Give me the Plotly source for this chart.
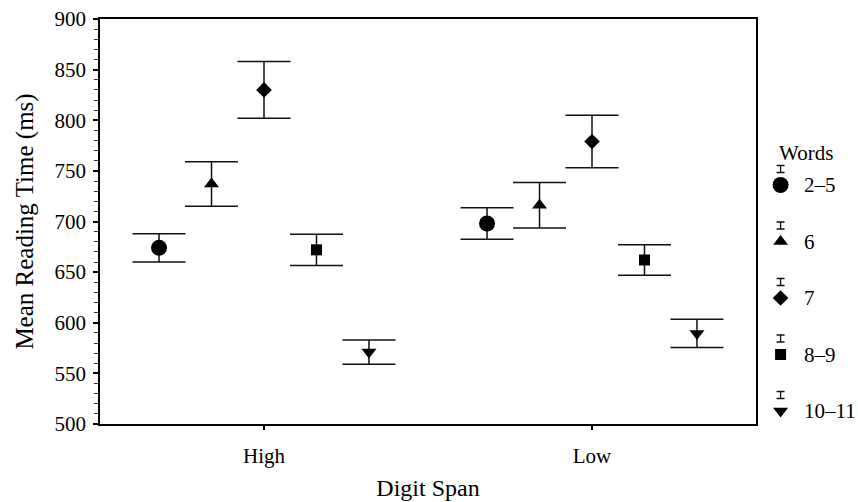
import plotly.graph_objects as go

# ---- data ----
digit_span = ["High", "Low"]
word_groups = ["2–5", "6", "7", "8–9", "10–11"]
mean_high = [674, 737, 830, 672, 571]
err_high = [14, 22, 28, 15.5, 12]
mean_low = [698, 716, 779, 662, 589.5]
err_low = [15.5, 22.5, 26, 15, 14]
y_ticks = [500, 550, 600, 650, 700, 750, 800, 850, 900]

# ---- style ----
FONT = "Liberation Serif"
symbols = ["circle", "triangle-up", "diamond", "square", "triangle-down"]
sizes = [16, 13, 12, 11, 13]
offsets = [-0.32, -0.16, 0.0, 0.16, 0.32]

W, H = 858, 502
L, R, T, B = 100, 0, 19, 78
plot_w = W - L - R
main_right = 756
main_frac = (main_right - L) / plot_w

fig = go.Figure()

for gi, g in enumerate(word_groups):
    xs = [ci + offsets[gi] for ci in range(len(digit_span))]
    ys = [mean_high[gi], mean_low[gi]]
    es = [err_high[gi], err_low[gi]]
    fig.add_trace(go.Scatter(
        x=xs, y=ys, mode="markers", name=g, showlegend=False,
        marker=dict(symbol=symbols[gi], size=sizes[gi], color="black", line=dict(width=0)),
        error_y=dict(type="data", array=es, visible=True, color="#111111",
                     thickness=1.5, width=26.5),
        xaxis="x", yaxis="y",
    ))

# ---- custom legend (in a pixel-coordinate overlay axis) ----
leg_x = 780
leg_y0 = 185
leg_dy = 56.5
for gi, g in enumerate(word_groups):
    yy = leg_y0 + gi * leg_dy
    fig.add_trace(go.Scatter(
        x=[leg_x], y=[yy], mode="markers", showlegend=False, hoverinfo="skip",
        marker=dict(symbol=symbols[gi], size=sizes[gi], color="black", line=dict(width=0)),
        xaxis="x2", yaxis="y2",
    ))
    fig.add_trace(go.Scatter(
        x=[leg_x], y=[yy - 16], mode="markers", showlegend=False, hoverinfo="skip",
        marker=dict(size=1, color="rgba(0,0,0,0)"),
        error_y=dict(type="constant", value=3.5, visible=True, color="#111111",
                     thickness=1.3, width=4),
        xaxis="x2", yaxis="y2",
    ))
    fig.add_annotation(x=802, y=yy, xref="x2", yref="y2", text=g, showarrow=False,
                       xanchor="left", yanchor="middle",
                       font=dict(family=FONT, size=21, color="black"))

fig.add_annotation(x=806, y=153, xref="x2", yref="y2", text="Words", showarrow=False,
                   xanchor="center", yanchor="middle",
                   font=dict(family=FONT, size=21, color="black"))

fig.update_layout(
    width=W, height=H,
    margin=dict(l=L, r=R, t=T, b=B),
    paper_bgcolor="white", plot_bgcolor="white",
    font=dict(family=FONT, size=21, color="black"),
    xaxis=dict(
        domain=[0, main_frac], range=[-0.5, 1.5],
        tickvals=list(range(len(digit_span))), ticktext=digit_span,
        ticks="outside", ticklen=4, tickwidth=2, tickcolor="black",
        showline=True, linecolor="black", linewidth=1.5, mirror=True,
        showgrid=False, zeroline=False,
        tickfont=dict(family=FONT, size=21),
        ticklabelstandoff=8,
        title=dict(text="Digit Span", font=dict(family=FONT, size=24), standoff=12),
    ),
    yaxis=dict(
        domain=[0, 1], range=[500, 900],
        tickvals=y_ticks,
        ticks="outside", ticklen=5, tickwidth=2, tickcolor="black",
        minor=dict(dtick=10, ticks="outside", ticklen=4, tickwidth=1, tickcolor="#333333"),
        showline=True, linecolor="black", linewidth=1.5, mirror=True,
        showgrid=False, zeroline=False,
        tickfont=dict(family=FONT, size=21),
        ticklabelstandoff=3,
        title=dict(text="Mean Reading Time (ms)", font=dict(family=FONT, size=25), standoff=14),
    ),
    xaxis2=dict(domain=[main_frac + 0.001, 1], range=[main_right, W],
                visible=False, fixedrange=True),
    yaxis2=dict(domain=[0, 1], range=[H - B, T], anchor="x2",
                visible=False, fixedrange=True),
)

fig.write_html("out.html")
